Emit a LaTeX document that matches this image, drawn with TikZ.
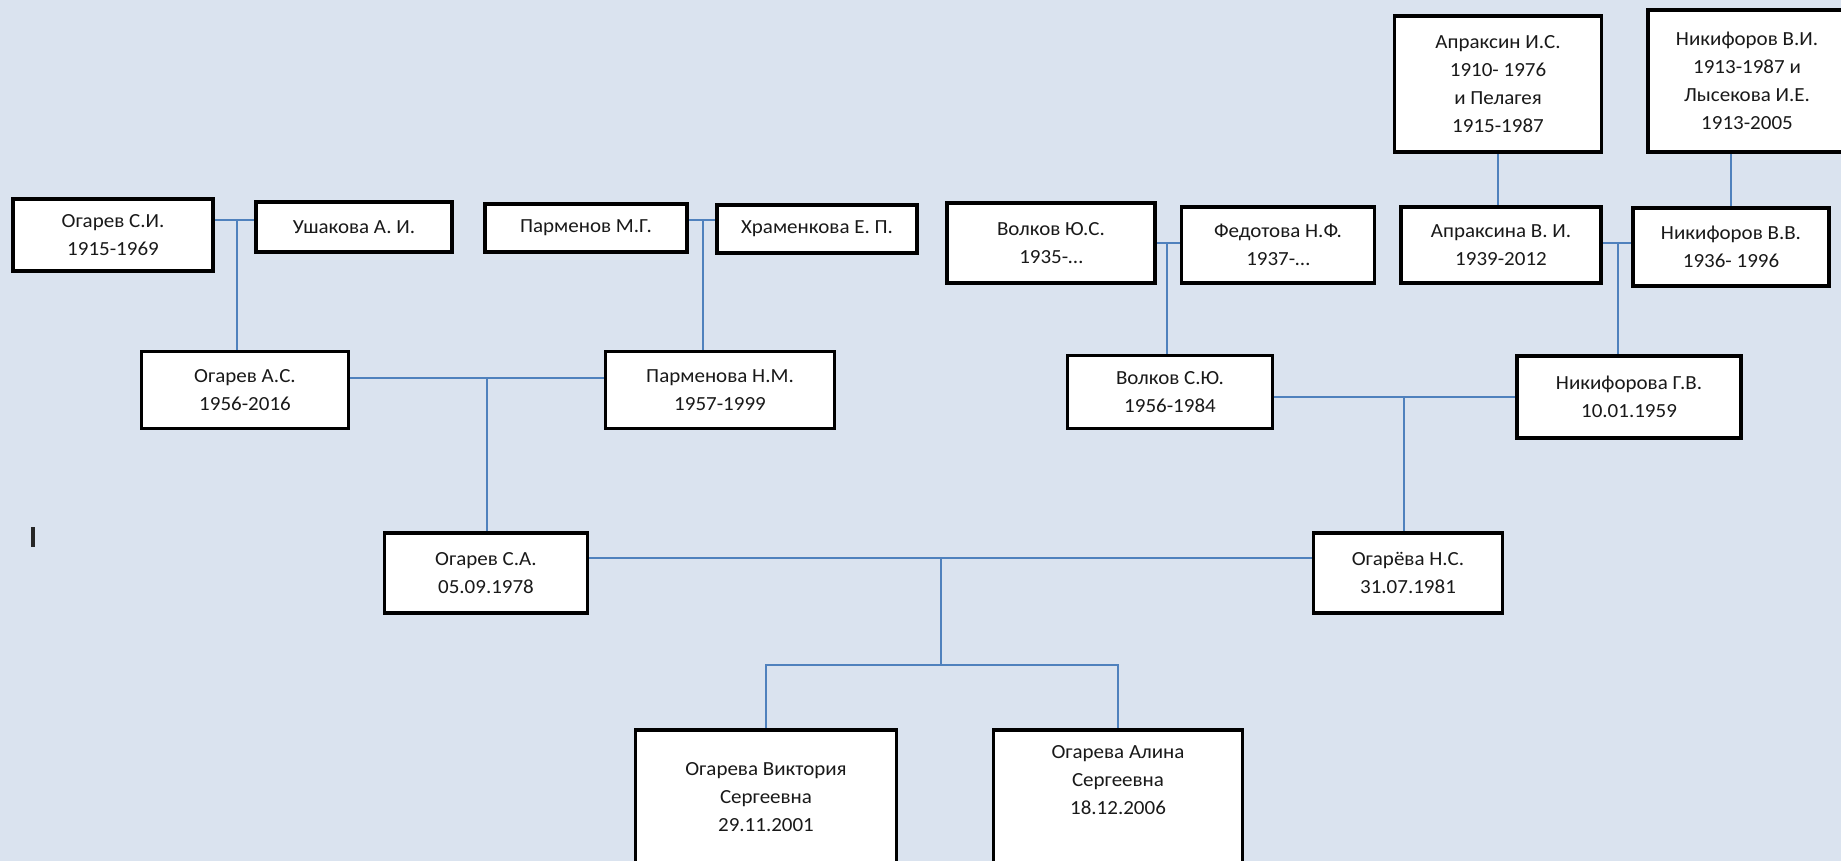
\documentclass[tikz,border=0pt]{standalone}
\usepackage{fontspec}
\setmainfont{Carlito}[FakeStretch=1.05]
\usepackage{tikz}
\pgfdeclarelayer{bg}
\pgfsetlayers{bg,main}
\definecolor{sheet}{HTML}{DAE3EF}
\definecolor{link}{HTML}{4F81BD}
\tikzset{
  person/.style={draw=black, line width=3.5pt, fill=white, inner sep=0pt,
    align=center, text=black!90, font=\fontsize{20}{28}\selectfont},
  tie/.style={draw=link, line width=1.8pt}
}

\begin{document}
\begin{tikzpicture}[x=1pt,y=-1pt]
        \useasboundingbox (0,0) rectangle (1841,861);
        % grandparents
        \node (p0) [person, minimum width=200, minimum height=72] at (113,235) {Огарев С.И.\\1915-1969};
        \node (p1) [person, minimum width=196, minimum height=50] at (354,227) {Ушакова А. И.};
        \node (p2) [person, minimum width=202, minimum height=48] at (586,228) {Парменов М.Г.};
        \node (p3) [person, minimum width=200, minimum height=48] at (817,229) {Храменкова Е. П.};
        \node (p4) [person, minimum width=208, minimum height=80] at (1051,243) {Волков Ю.С.\\1935-…};
        \node (p5) [person, minimum width=193, minimum height=76] at (1278,245) {Федотова Н.Ф.\\1937-…};
        \node (p6) [person, minimum width=207, minimum height=136] at (1498,84) {Апраксин И.С.\\1910- 1976\\и Пелагея\\1915-1987};
        \node (p7) [person, minimum width=198, minimum height=142] at (1747,81) {Никифоров В.И.\\1913-1987 и\\Лысекова И.Е.\\1913-2005};
        \node (p8) [person, minimum width=200, minimum height=76] at (1501,245) {Апраксина В. И.\\1939-2012};
        \node (p9) [person, minimum width=196, minimum height=78] at (1731,247) {Никифоров В.В.\\1936- 1996};
        % parents
        \node (p10) [person, minimum width=207, minimum height=77] at (245,390) {Огарев А.С.\\1956-2016};
        \node (p11) [person, minimum width=229, minimum height=77] at (720,390) {Парменова Н.М.\\1957-1999};
        \node (p12) [person, minimum width=205, minimum height=73] at (1170,392) {Волков С.Ю.\\1956-1984};
        \node (p13) [person, minimum width=224, minimum height=82] at (1629,397) {Никифорова Г.В.\\10.01.1959};
        \node (p14) [person, minimum width=203, minimum height=80] at (486,573) {Огарев С.А.\\05.09.1978};
        \node (p15) [person, minimum width=189, minimum height=80] at (1408,573) {Огарёва Н.С.\\31.07.1981};
        % children
        \node (p16) [person, minimum width=261, minimum height=134] at (766,797) {Огарева Виктория\\Сергеевна\\29.11.2001};
        \node (p17) [person, minimum width=249, minimum height=150] at (1118,805) {Огарева Алина\\Сергеевна\\18.12.2006\rule[-50pt]{0pt}{0pt}};
        \coordinate (j0) at (237,220);
        \coordinate (j1) at (703,220);
        \coordinate (j2) at (487,378);
        \coordinate (j3) at (1167,243);
        \coordinate (j4) at (1618,243);
        \coordinate (j5) at (1404,397);
        \coordinate (j6) at (941,558);
        \coordinate (j7) at (941,665);
        \draw [line width=4pt, black!85] (33,527) -- (33,547);
        \begin{pgfonlayer}{bg}
                \fill [sheet] (0,0) rectangle (1841,861);
                \draw [tie] (p0.east |- j0) -- (p1.west |- j0);
                \draw [tie] (j0) -- (j0 |- p10.north);
                \draw [tie] (p2.east |- j1) -- (p3.west |- j1);
                \draw [tie] (j1) -- (j1 |- p11.north);
                \draw [tie] (p10.east |- j2) -- (p11.west |- j2);
                \draw [tie] (j2) -- (j2 |- p14.north);
                \draw [tie] (p4.east |- j3) -- (p5.west |- j3);
                \draw [tie] (j3) -- (j3 |- p12.north);
                \draw [tie] (p6.south) -- (p8.north -| p6.south);
                \draw [tie] (p7.south -| p9.north) -- (p9.north);
                \draw [tie] (p8.east |- j4) -- (p9.west |- j4);
                \draw [tie] (j4) -- (j4 |- p13.north);
                \draw [tie] (p12.east |- j5) -- (p13.west |- j5);
                \draw [tie] (j5) -- (j5 |- p15.north);
                \draw [tie] (p14.east |- j6) -- (p15.west |- j6);
                \draw [tie] (j6) -- (j7);
                \draw [tie] (p16.north) |- (j7) -| (p17.north);
        \end{pgfonlayer}
\end{tikzpicture}
\end{document}
